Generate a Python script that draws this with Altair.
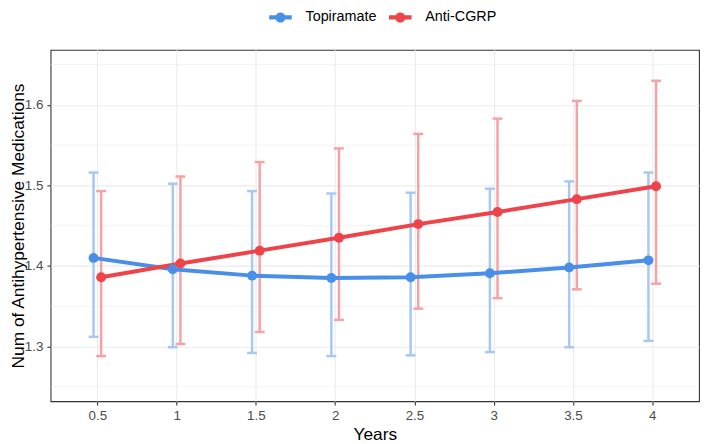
import altair as alt
import pandas as pd

years = [0.5, 1, 1.5, 2, 2.5, 3, 3.5, 4]
groups = ["Topiramate", "Anti-CGRP"]
topi_mean = [1.410, 1.396, 1.388, 1.385, 1.386, 1.391, 1.398, 1.407]
topi_lo = [1.312, 1.299, 1.292, 1.288, 1.289, 1.293, 1.299, 1.307]
topi_hi = [1.516, 1.502, 1.493, 1.490, 1.491, 1.496, 1.505, 1.516]
cgrp_mean = [1.386, 1.403, 1.419, 1.435, 1.452, 1.467, 1.483, 1.499]
cgrp_lo = [1.288, 1.303, 1.318, 1.333, 1.347, 1.360, 1.371, 1.378]
cgrp_hi = [1.493, 1.511, 1.529, 1.546, 1.564, 1.583, 1.605, 1.630]
minor_breaks = [1.25, 1.35, 1.45, 1.55, 1.65]
x_ticks = [0.5, 1, 1.5, 2, 2.5, 3, 3.5, 4]
y_ticks = [1.3, 1.4, 1.5, 1.6]
colors = ["#4A8FE7", "#EE4348"]
err_colors = ["#A6C8F3", "#F6A2A4"]

rows = []
for g, m, lo, hi in [(groups[0], topi_mean, topi_lo, topi_hi),
                     (groups[1], cgrp_mean, cgrp_lo, cgrp_hi)]:
    for i, yr in enumerate(years):
        rows.append({"Years": yr, "Group": g, "mean": m[i], "lo": lo[i], "hi": hi[i]})
df = pd.DataFrame(rows)
minor_df = pd.DataFrame({"v": minor_breaks})

xscale = alt.Scale(domain=[0.205, 4.295], nice=False, zero=False)
yscale = alt.Scale(domain=[1.232, 1.6685], nice=False, zero=False)
cscale = alt.Scale(domain=groups, range=colors)
escale = alt.Scale(domain=groups, range=err_colors)

ytitle = "Num of Antihypertensive Medications"
xaxis = alt.Axis(values=x_ticks, format="~g", title="Years", titlePadding=3,
                 labelPadding=4)
yaxis = alt.Axis(values=y_ticks, format=".1f", title=ytitle,
                 titleX=-41, titleBaseline="top", labelPadding=4)

legend_path = ("M-1.9,-0.36L1.9,-0.36L1.9,0.36L-1.9,0.36Z "
               "M0.85,0A0.85,0.85 0 1,1 -0.85,0A0.85,0.85 0 1,1 0.85,0Z")

base = alt.Chart(df).transform_calculate(
    xpos="datum.Years + (datum.Group == 'Topiramate' ? -0.024 : 0.024)"
)

X = alt.X("xpos:Q", scale=xscale, axis=xaxis)

minor = alt.Chart(minor_df).mark_rule(color="#EBEBEB", strokeWidth=0.6).encode(
    y=alt.Y("v:Q", scale=yscale, axis=yaxis)
)

err_rule = base.mark_rule(strokeWidth=2.5).encode(
    x=X,
    y=alt.Y("lo:Q", scale=yscale, axis=yaxis, title=ytitle),
    y2="hi:Q",
    stroke=alt.Stroke("Group:N", scale=escale, legend=None),
)

err_caps = base.transform_fold(["lo", "hi"], as_=["end", "val"]).mark_tick(
    orient="horizontal", size=10, thickness=2.5, opacity=1
).encode(
    x=X,
    y=alt.Y("val:Q", scale=yscale, axis=yaxis, title=ytitle),
    fill=alt.Fill("Group:N", scale=escale, legend=None),
)

line = base.mark_line(strokeWidth=4).encode(
    x=X,
    y=alt.Y("mean:Q", scale=yscale, axis=yaxis),
    stroke=alt.Stroke("Group:N", scale=cscale, legend=None),
)

pts = base.mark_circle(size=100, opacity=1).encode(
    x=X,
    y=alt.Y("mean:Q", scale=yscale, axis=yaxis),
    color=alt.Color("Group:N", scale=cscale,
                    legend=alt.Legend(title=None, orient="none", direction="horizontal",
                                      legendX=225, legendY=-40,
                                      symbolType=legend_path, symbolSize=144,
                                      symbolStrokeWidth=0, labelFontSize=14.5,
                                      labelColor="#000000", labelOffset=18,
                                      columnPadding=11)),
)

chart = alt.layer(minor, err_rule, err_caps, line, pts).properties(
    width=655, height=355,
    autosize=alt.AutoSizeParams(type="none"),
    padding={"left": 43, "top": 40, "right": 1, "bottom": 41},
).resolve_scale(
    stroke="independent"
).resolve_legend(
    color="independent", stroke="independent", fill="independent"
).configure(
    font="Liberation Sans"
).configure_view(
    stroke="#333333", strokeWidth=1.1
).configure_axis(
    domain=False, tickColor="#333333", tickSize=3.7, tickWidth=1.1,
    labelColor="#4D4D4D", labelFontSize=13.5, labelFont="Liberation Sans",
    titleColor="#000000", titleFontSize=17.5, titleFontWeight="normal",
    titleFont="Liberation Sans",
    gridColor="#EBEBEB", gridWidth=1.1,
).configure_legend(
    labelFont="Liberation Sans"
)

chart.save("out.html", embed_options={"renderer": "svg", "actions": False})
